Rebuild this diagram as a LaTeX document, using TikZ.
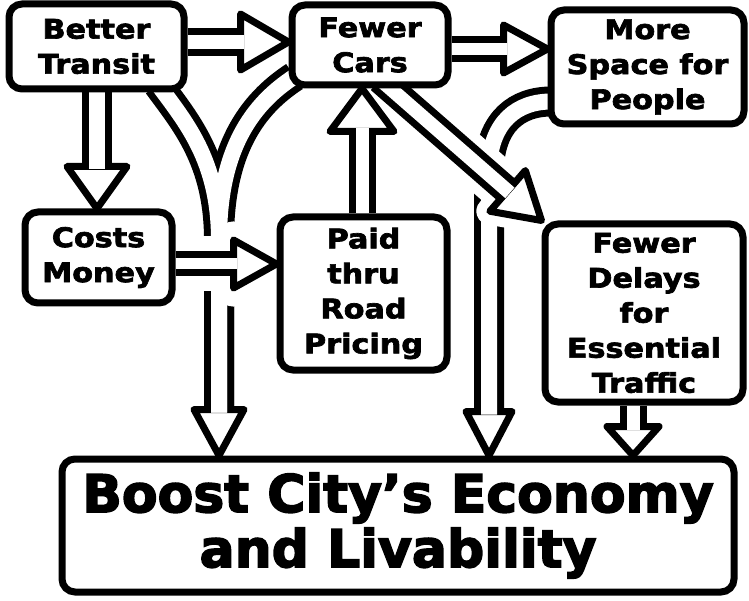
\documentclass[tikz,border=0pt]{standalone}
\usepackage{fontspec}
\newfontfamily\labelfont{DejaVu Sans}[FakeStretch=1.12, FakeBold=2.5]
\newfontfamily\titlefont{DejaVu Sans}[FakeBold=3]
\usetikzlibrary{calc,backgrounds}

% outline thickness of boxes and block arrows
\def\lw{7}

\tikzset{
  box/.style={draw, line width=\lw pt, rounded corners=13pt, fill=white,
              inner sep=0pt, align=center},
  smalltext/.style={font=\labelfont\bfseries\fontsize{27}{35}\selectfont},
  bigtext/.style={font=\titlefont\bfseries\fontsize{52}{55}\selectfont},
  head/.style={fill=white, draw=black, line width=\lw pt, line join=round},
}

% triangular head: #1 point behind, #2 tip, #3 length, #4 half width
% leaves (hb) = middle of the base and (he) = shaft end, 3pt inside the head
\newcommand\arrowhead[4]{%
  \pgfmathsetmacro\baLen{#3-3}%
  \coordinate (hb) at ($(#2)!#3pt!(#1)$);
  \coordinate (he) at ($(#2)!\baLen pt!(#1)$);
  \filldraw[head] ($(hb)!#4pt!90:(#2)$) -- (#2) -- ($(hb)!#4pt!-90:(#2)$) -- cycle;
}

% straight hollow block arrow
% #1 tail, #2 tip, #3 head length, #4 head half width, #5 inner width, #6 white halo
\newcommand\blockarrow[6]{%
  \pgfmathsetmacro\baLen{#3-3}%
  \pgfmathsetmacro\baOut{2*\lw+#5}%
  \pgfmathsetmacro\baHalo{2*\lw+#5+2*#6}%
  \pgfmathsetmacro\baHaloHead{\lw+2*#6}%
  \coordinate (hb) at ($(#2)!#3pt!(#1)$);
  \coordinate (he) at ($(#2)!\baLen pt!(#1)$);
  \coordinate (hl) at ($(hb)!#4pt!90:(#2)$);
  \coordinate (hr) at ($(hb)!#4pt!-90:(#2)$);
  \ifdim #6pt>0pt
    \draw[white, line width=\baHalo pt] (#1) -- (hb);
    \filldraw[white, line width=\baHaloHead pt, line join=round] (hl) -- (#2) -- (hr) -- cycle;
  \fi
  \filldraw[head] (hl) -- (#2) -- (hr) -- cycle;
  \draw[line width=\baOut pt] (#1) -- (he);
  \draw[white, line width=#5pt] (#1) -- (he);
}

\begin{document}
\begin{tikzpicture}[x=1pt, y=-1pt]
\useasboundingbox (0,0) rectangle (749,601);

% ---------- boxes ----------
\node[box, smalltext, minimum width=175, minimum height=85] (bt) at (96.5,46.5) {Better\\Transit};
\node[box, smalltext, minimum width=156, minimum height=80] (fc) at (370,45) {Fewer\\Cars};
\node[box, smalltext, minimum width=193, minimum height=114] (ms) at (647.5,67) {More\\Space for\\People};
\node[box, smalltext, minimum width=147, minimum height=91] (cm) at (98.5,257.5) {Costs\\Money};
\node[box, smalltext, minimum width=167, minimum height=153] (pd) at (363.5,293.5) {Paid\\thru\\Road\\Pricing};
\node[box, smalltext, minimum width=198, minimum height=178] (fd) at (644,313) {Fewer\\Delays\\for\\Essential\\Traffic};
\node[box, bigtext, minimum width=672, minimum height=133] (bx) at (398,525.5) {Boost City’s Economy\\and Livability};

% ---------- connectors ----------
\begin{scope}[on background layer]

  % Better Transit and Fewer Cars both feed one arrow down to the goal
  \coordinate (yl) at ($(bt.south -| 158,0)+(0,-8)$);
  \coordinate (yr) at ($(fc.south west)+(6,-12)$);
  \coordinate (ym) at (219,240);
  \coordinate (ytip) at (bx.north -| 219,0);
  \arrowhead{ym}{ytip}{46}{25}
  \draw[line width=30pt] (yl) .. controls +(27,37) and ($(ym)+(0,-80)$) .. (ym) -- (he);
  \draw[line width=30pt] (yr) .. controls +(-43,28) and ($(ym)+(0,-90)$) .. (ym) -- (he);
  \draw[white, line width=16pt] (yl) .. controls +(27,37) and ($(ym)+(0,-80)$) .. (ym) -- (he);
  \draw[white, line width=16pt] (yr) .. controls +(-43,28) and ($(ym)+(0,-90)$) .. (ym) -- (he);

  % More Space for People curving down to the goal
  \coordinate (mst) at ($(ms.south west)+(4,-26)$);
  \coordinate (mm) at (489,165);
  \coordinate (mtip) at (bx.north -| 489,0);
  \arrowhead{mm}{mtip}{44}{23}
  \draw[line width=30pt] (mst) .. controls +(-35,0) and ($(mm)+(3,-43)$) .. (mm) -- (he);
  \draw[white, line width=16pt] (mst) .. controls +(-35,0) and ($(mm)+(3,-43)$) .. (mm) -- (he);

  % straight arrows
  \coordinate (a1t) at (bt.east |- 0,42);   \coordinate (a1h) at (fc.west |- 0,42);
  \blockarrow{a1t}{a1h}{48}{28}{14}{0}
  \coordinate (a2t) at (fc.east |- 0,49);   \coordinate (a2h) at (ms.west |- 0,49);
  \blockarrow{a2t}{a2h}{44}{24}{12}{0}
  \coordinate (a3t) at (bt.south -| 97,0);  \coordinate (a3h) at (cm.north -| 97,0);
  \blockarrow{a3t}{a3h}{42}{30}{16}{0}
  \coordinate (a7t) at (fd.south -| 633,0); \coordinate (a7h) at (bx.north -| 633,0);
  \blockarrow{a7t}{a7h}{29}{26}{13}{0}

  % arrows passing over others
  \coordinate (a4t) at (cm.east |- 0,264);  \coordinate (a4h) at (pd.west |- 0,264);
  \blockarrow{a4t}{a4h}{43}{24}{11}{15}
  \coordinate (a6t) at ($(fc.south)+(10,-9)$); \coordinate (a6h) at (fd.north west);
  \blockarrow{a6t}{a6h}{45}{27}{14}{10}

  \coordinate (a5t) at (pd.north -| 362,0); \coordinate (a5h) at (fc.south -| 362,0);
  \blockarrow{a5t}{a5h}{43}{32}{13}{0}
\end{scope}
\end{tikzpicture}
\end{document}
